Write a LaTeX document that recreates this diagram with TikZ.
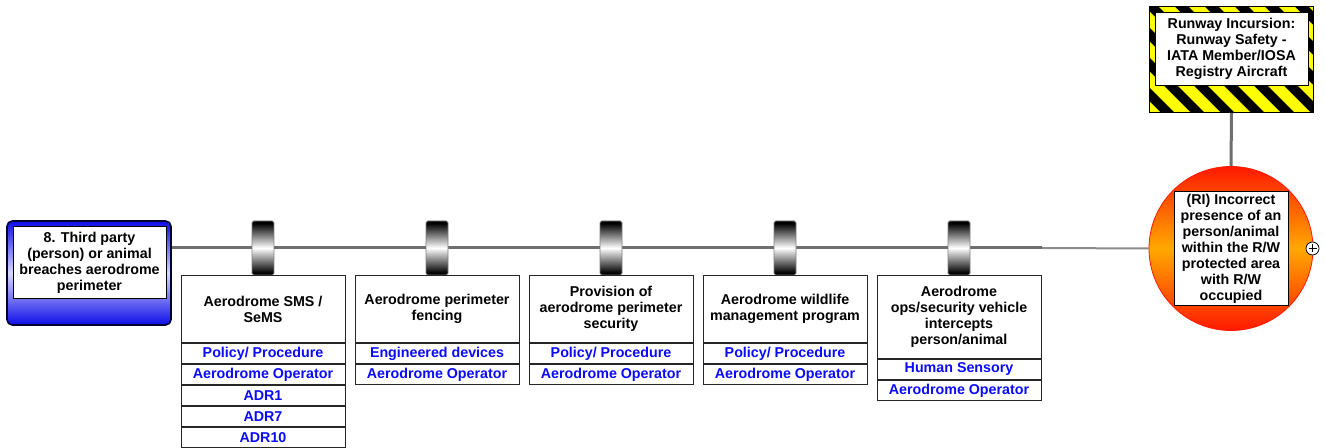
\documentclass[tikz,border=0pt]{standalone}
\usepackage{fontspec}
\setmainfont{Liberation Sans}
\usetikzlibrary{backgrounds}

\definecolor{linegray}{rgb}{0.431,0.431,0.431}
\definecolor{thingray}{rgb}{0.549,0.549,0.549}
\definecolor{ctlblue}{rgb}{0.04,0.04,1}
\definecolor{threatblue}{rgb}{0.05,0.05,0.91}
\definecolor{threatlight}{rgb}{0.85,0.85,1}
\definecolor{threatedge}{rgb}{0,0,0.2}
\definecolor{hazyellow}{rgb}{1,1,0}
\definecolor{tered}{rgb}{1,0.1,0}
\definecolor{teorange}{rgb}{1,0.66,0}

% the path's extent maps onto 25bp..75bp of each shading
\pgfdeclareverticalshading{threatshade}{100bp}{
  color(0bp)=(threatblue); color(25bp)=(threatblue); color(50bp)=(threatlight);
  color(75bp)=(threatblue); color(100bp)=(threatblue)}
\pgfdeclareverticalshading{teshade}{100bp}{
  color(0bp)=(tered); color(25bp)=(tered); color(50bp)=(teorange);
  color(75bp)=(tered); color(100bp)=(tered)}
\pgfdeclareverticalshading{barrelshade}{100bp}{
  color(0bp)=(black); color(27bp)=(black); color(50bp)=(white);
  color(73bp)=(black); color(100bp)=(black)}

\tikzset{
  txt/.style={font=\fontsize{10.7}{12}\selectfont\bfseries, align=center},
  ctlbox/.style={txt, draw=black!85, line width=0.75pt, fill=white,
    minimum width=123pt, inner sep=1pt, anchor=north},
  ttl/.style={ctlbox, minimum height=50.25pt},
  ttltall/.style={ctlbox, minimum height=62.25pt},
  rowb/.style={ctlbox, minimum height=15pt, text=ctlblue},
  barrier/.style={draw=gray, line width=0.6pt, rounded corners=1.2pt,
    minimum width=16.5pt, minimum height=40.5pt, inner sep=0pt,
    shading=barrelshade},
  labelbox/.style={txt, draw=black, line width=0.75pt, fill=white, inner sep=1pt},
  mainline/.style={draw=linegray, line width=2.25pt},
  thinline/.style={draw=thingray, line width=1.5pt},
}

\begin{document}
\begin{tikzpicture}[x=0.75pt,y=-0.75pt]
\useasboundingbox (0,0) rectangle (1325,448);

% threat
\node[draw=threatedge, line width=1.2pt, rounded corners=4pt,
      minimum width=123pt, minimum height=78pt, inner sep=0pt,
      shading=threatshade]
      (threat) at (89,273) {};
\node[labelbox, minimum width=114.75pt, minimum height=54pt] (threatlbl) at (89.5,262.5)
      {8. Third party\\(person) or animal\\breaches aerodrome\\perimeter};

% barriers on the pathway
\node[barrier] (bar1) at (263,248) {};
\node[barrier] (bar2) at (437,248) {};
\node[barrier] (bar3) at (611,248) {};
\node[barrier] (bar4) at (785,248) {};
\node[barrier] (bar5) at (959,248) {};
\coordinate (split) at (1042,248);

% control boxes
\node[ttl] (c1) at (263,275) {Aerodrome SMS /\\SeMS};
\node[rowb] (c1a) at (c1.south) {Policy/ Procedure};
\node[rowb] (c1b) at (c1a.south) {Aerodrome Operator};
\node[rowb] (c1c) at (c1b.south) {ADR1};
\node[rowb] (c1d) at (c1c.south) {ADR7};
\node[rowb] (c1e) at (c1d.south) {ADR10};

\node[ttl] (c2) at (437,275) {Aerodrome perimeter\\fencing};
\node[rowb] (c2a) at (c2.south) {Engineered devices};
\node[rowb] (c2b) at (c2a.south) {Aerodrome Operator};

\node[ttl] (c3) at (611,275) {Provision of\\aerodrome perimeter\\security};
\node[rowb] (c3a) at (c3.south) {Policy/ Procedure};
\node[rowb] (c3b) at (c3a.south) {Aerodrome Operator};

\node[ttl] (c4) at (785,275) {Aerodrome wildlife\\management program};
\node[rowb] (c4a) at (c4.south) {Policy/ Procedure};
\node[rowb] (c4b) at (c4a.south) {Aerodrome Operator};

\node[ttltall] (c5) at (959,275) {Aerodrome\\ops/security vehicle\\intercepts\\person/animal};
\node[rowb] (c5a) at (c5.south) {Human Sensory};
\node[rowb] (c5b) at (c5a.south) {Aerodrome Operator};

% hazard
\node[draw=black, fill=black, minimum width=123pt, minimum height=79.5pt, inner sep=0pt]
      (haz) at (1231.5,59.5) {};
\begin{scope}
  \clip (haz.south west) rectangle (haz.north east);
  \foreach \i in {0,...,11}
    \fill[hazyellow] ({1002+30*\i},0) -- ++(16,0) -- ++(130,130) -- ++(-16,0) -- cycle;
\end{scope}
\draw[black, line width=0.9pt] (haz.south west) rectangle (haz.north east);
\node[labelbox, minimum width=114.75pt, minimum height=54.75pt] (hazlbl) at (1231.5,48.6)
      {Runway Incursion:\\Runway Safety -\\IATA Member/IOSA\\Registry Aircraft};

% top event
\node[circle, minimum size=123pt, inner sep=0pt, draw=tered, line width=0.6pt,
      shading=teshade] (te) at (1231,248.5) {};
\node[labelbox, minimum width=85.5pt, minimum height=85.5pt] (telbl) at (1231,249)
      {(RI) Incorrect\\presence of an\\person/animal\\within the R/W\\protected area\\with R/W\\occupied};

% expand marker
\node[circle, draw=black, fill=white, line width=0.6pt, minimum size=9.75pt, inner sep=0pt]
      (plus) at (1312.5,248.5) {};
\draw[line width=0.6pt] ([xshift=-3pt]plus.center) -- ([xshift=3pt]plus.center);
\draw[line width=0.6pt] ([yshift=-3pt]plus.center) -- ([yshift=3pt]plus.center);

% connectors
\begin{scope}[on background layer]
  \draw[mainline] (threat.east |- bar1.center) -- (bar1) -- (bar2) -- (bar3) -- (bar4) -- (bar5) -- (split);
  \draw[thinline] (split) -- (te.west);
  \draw[mainline] (haz.south) -- (te.north);
\end{scope}
\end{tikzpicture}
\end{document}
